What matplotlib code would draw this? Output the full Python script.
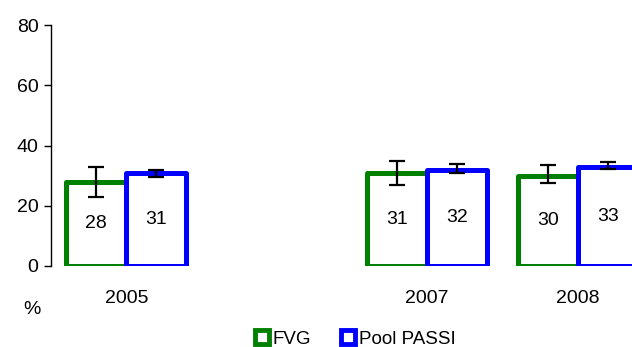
import matplotlib
matplotlib.use("Agg")
import matplotlib.pyplot as plt
from matplotlib.lines import Line2D
import numpy as np

plt.rcParams['font.family'] = ['Liberation Sans', 'DejaVu Sans']

years = ['2005', '2006', '2007', '2008']
fvg = [28, np.nan, 31, 30]
fvg_lo = [23, np.nan, 27, 27.5]
fvg_hi = [33, np.nan, 35, 33.5]
pool = [31, np.nan, 32, 33]
pool_lo = [29.5, np.nan, 31, 32.3]
pool_hi = [32, np.nan, 34, 34.5]
fvg_labels = ['28', '', '31', '30']
pool_labels = ['31', '', '32', '33']
series_names = ['FVG', 'Pool PASSI']
colors = ['#008000', '#0000FF']

FS = 14

fig = plt.figure(figsize=(6.32, 3.47), dpi=100)
ax = fig.add_axes([51/632, 1-266/347, 602/632, 241/347])

x = np.arange(len(years))
w = 0.4
for vals, lo, hi, labs, off, col in [(fvg, fvg_lo, fvg_hi, fvg_labels, -w/2, colors[0]),
                                      (pool, pool_lo, pool_hi, pool_labels, w/2, colors[1])]:
    v = np.array(vals, dtype=float)
    mask = ~np.isnan(v)
    xs = x[mask] + off
    ax.bar(xs, v[mask], width=w, facecolor='white', edgecolor=col, linewidth=3.6,
           zorder=2, joinstyle='round')
    lo_a = np.array(lo, dtype=float)[mask]
    hi_a = np.array(hi, dtype=float)[mask]
    ax.errorbar(xs, v[mask], yerr=[v[mask]-lo_a, hi_a-v[mask]], fmt='none',
                ecolor='black', elinewidth=1.6, capsize=5.5, capthick=1.6, zorder=3)
    for xi, vi, lab in zip(xs, v[mask], np.array(labs)[mask]):
        ax.text(xi, vi/2, lab, ha='center', va='center', fontsize=FS, zorder=4)

ax.set_xlim(-0.5, 3.5)
ax.set_ylim(0, 80)
ax.set_yticks([0, 20, 40, 60, 80])
ax.tick_params(axis='y', labelsize=FS, length=5, width=1, pad=4)
ax.set_xticks([0, 2, 3])
ax.set_xticklabels(['2005', '2007', '2008'])
ax.tick_params(axis='x', labelsize=FS, length=0, pad=17)
for s in ['top', 'right', 'bottom']:
    ax.spines[s].set_visible(False)
ax.spines['left'].set_linewidth(1)

fig.text(32/632, 1-309/347, '%', ha='center', va='center', fontsize=FS)

handles = [Line2D([], [], marker='s', linestyle='none', markersize=10,
                  markerfacecolor='white', markeredgecolor=c, markeredgewidth=3.5)
           for c in colors]
fig.legend(handles, series_names, loc='center', bbox_to_anchor=(354/632, 1-339/347),
           ncol=2, frameon=False, fontsize=13.5, handletextpad=0.05, columnspacing=1.5,
           handlelength=1.0, borderpad=0)

fig.savefig('out.png', dpi=100)
